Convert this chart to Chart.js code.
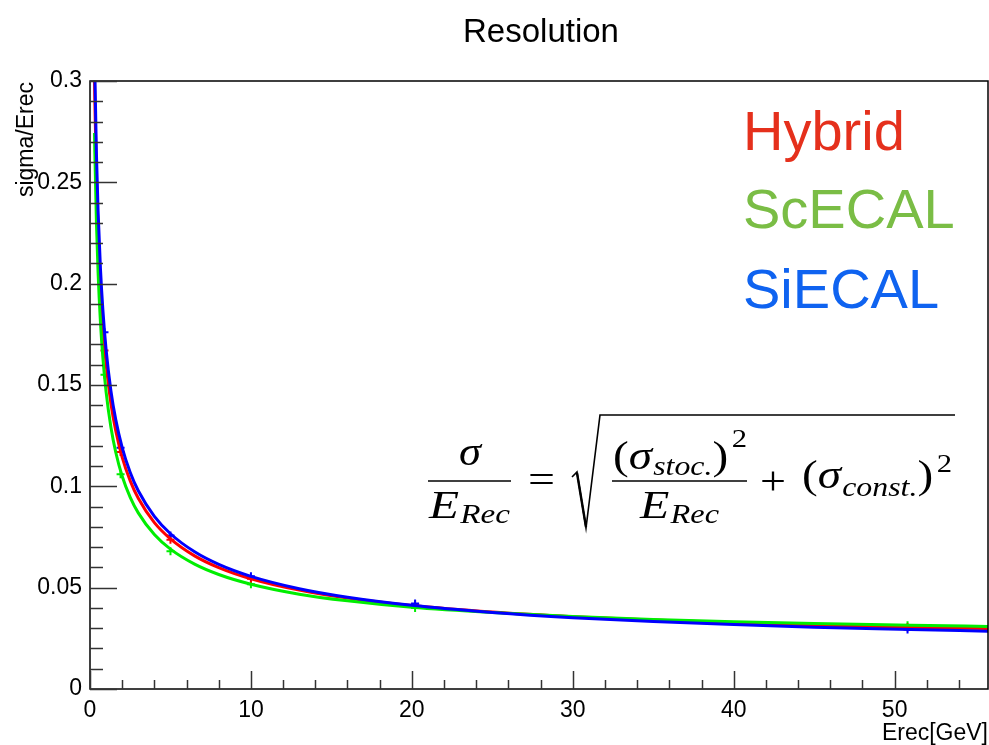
<!DOCTYPE html>
<html>
<head>
<meta charset="utf-8">
<title>Resolution</title>
<script src="https://cdn.jsdelivr.net/npm/chart.js@4.4.1/dist/chart.umd.min.js"></script>
<style>
  body { margin: 0; background: #fff; }
  canvas { display: block; }
</style>
</head>
<body>
<canvas id="resChart" width="989" height="745"></canvas>
<script>
// fitted curves
const energies = [0.28, 0.3, 0.4, 0.5, 0.65, 0.8, 1, 1.3, 1.6, 2, 2.5, 3, 4, 5, 6.5, 8, 10, 13, 16, 20, 25, 30, 35, 40, 45, 51, 55.8];
const hybridFit = [0.301, 0.2909, 0.2521, 0.2257, 0.1982, 0.1789, 0.1603, 0.1409, 0.1274, 0.1143, 0.1027, 0.0941, 0.0821, 0.0741, 0.0657, 0.0599, 0.0544, 0.0488, 0.0449, 0.0412, 0.0380, 0.0357, 0.0340, 0.0327, 0.0316, 0.0305, 0.0298];
const scecalFit = [0.2743, 0.2650, 0.2299, 0.2059, 0.1809, 0.1634, 0.1466, 0.1291, 0.1168, 0.1050, 0.0946, 0.0869, 0.0762, 0.0690, 0.0616, 0.0565, 0.0517, 0.0468, 0.0435, 0.0403, 0.0377, 0.0358, 0.0343, 0.0332, 0.0323, 0.0315, 0.0309];
const siecalFit = [0.3153, 0.3046, 0.2640, 0.2362, 0.2073, 0.1871, 0.1675, 0.1471, 0.1329, 0.1191, 0.1068, 0.0978, 0.0852, 0.0766, 0.0677, 0.0615, 0.0556, 0.0495, 0.0453, 0.0413, 0.0378, 0.0352, 0.0333, 0.0318, 0.0305, 0.0294, 0.0285];

// measured points
const pointE = [0.9, 1.9, 5, 10, 20.2, 50.8];
const hybridPts = [0.167, 0.117, 0.0737, 0.0544, 0.0418, 0.0305];
const scecalPts = [0.155, 0.106, 0.068, 0.0517, 0.040, 0.0315];
const siecalPts = [0.176, 0.119, 0.0758, 0.0556, 0.0422, 0.0294];

const xTickLabels = ['0', '10', '20', '30', '40', '50'];
const yTickLabels = ['0', '0.05', '0.1', '0.15', '0.2', '0.25', '0.3'];
const legendNames = ['Hybrid', 'ScECAL', 'SiECAL'];

const pairs = (xs, ys) => xs.map((x, i) => ({ x: x, y: ys[i] }));

function fitSet(label, ys, color, order) {
  return {
    label: label, data: pairs(energies, ys), borderColor: color, backgroundColor: color,
    borderWidth: 3, pointRadius: 0, cubicInterpolationMode: 'monotone', fill: false, order: order
  };
}
function ptSet(label, ys, color, order) {
  return {
    label: label, data: pairs(pointE, ys), showLine: false, borderColor: color, backgroundColor: color,
    pointStyle: 'cross', pointRadius: 4, pointBorderWidth: 2, order: order
  };
}

// ROOT style inner ticks, frame, title, labels, formula
const rootDeco = {
  id: 'rootDeco',
  afterDraw(chart) {
    const ctx = chart.ctx;
    const xs = chart.scales.x, ys = chart.scales.y;
    const a = chart.chartArea;
    ctx.save();
    ctx.strokeStyle = '#000';
    ctx.lineWidth = 1.5;
    ctx.strokeRect(a.left, a.top, a.right - a.left, a.bottom - a.top);

    ctx.lineWidth = 1.5;
    ctx.strokeStyle = '#333';
    for (let i = 0; i <= 30; i++) {
      const py = Math.round(ys.getPixelForValue(i * 0.01)) + 0.5;
      const len = i % 5 === 0 ? 27 : 13;
      ctx.beginPath(); ctx.moveTo(a.left, py); ctx.lineTo(a.left + len, py); ctx.stroke();
    }
    for (let i = 0; i <= 27; i++) {
      const px = Math.round(xs.getPixelForValue(i * 2)) + 0.5;
      const len = i % 5 === 0 ? 18 : 9;
      ctx.beginPath(); ctx.moveTo(px, a.bottom); ctx.lineTo(px, a.bottom - len); ctx.stroke();
    }

    ctx.fillStyle = '#000';
    ctx.font = '33px "Liberation Sans", Arial, sans-serif';
    ctx.textAlign = 'center';
    ctx.textBaseline = 'alphabetic';
    ctx.fillText('Resolution', 541, 42);

    ctx.font = '23px "Liberation Sans", Arial, sans-serif';
    ctx.textAlign = 'right';
    ctx.fillText('Erec[GeV]', 988, 740);
    ctx.save();
    ctx.translate(33, 82);
    ctx.rotate(-Math.PI / 2);
    ctx.fillText('sigma/Erec', 0, 0);
    ctx.restore();

    // legend text
    ctx.textAlign = 'left';
    ctx.font = '56px "Liberation Sans", Arial, sans-serif';
    const lColors = ['#e5301c', '#7abd45', '#0f63f0'];
    const lBase = [150, 228, 308];
    legendNames.forEach((n, i) => { ctx.fillStyle = lColors[i]; ctx.fillText(n, 743, lBase[i]); });

    // formula
    ctx.fillStyle = '#000';
    ctx.strokeStyle = '#000';
    const it = 'italic 40px "Liberation Serif", serif';
    const itS = 'italic 27px "Liberation Serif", serif';
    const rm = '40px "Liberation Serif", serif';
    const rmS = '26px "Liberation Serif", serif';
    function width(parts) {
      let w = 0;
      parts.forEach(p => { ctx.font = p.f; w += ctx.measureText(p.t).width + (p.gap || 0); });
      return w;
    }
    // draw a run of text pieces stretched to span [x0, x1]
    function fitRun(x0, x1, y, parts) {
      const k = (x1 - x0) / width(parts);
      ctx.save();
      ctx.translate(x0, 0);
      ctx.scale(k, 1);
      let x = 0;
      parts.forEach(p => {
        ctx.font = p.f;
        ctx.fillText(p.t, x, y + (p.dy || 0));
        x += ctx.measureText(p.t).width + (p.gap || 0);
      });
      ctx.restore();
    }
    const eRec = [{ t: 'E', f: it, gap: 1 }, { t: 'Rec', f: itS, dy: 5 }];
    // left fraction
    ctx.textAlign = 'left';
    fitRun(459, 481, 465, [{ t: 'σ', f: it }]);
    ctx.lineWidth = 1.6;
    ctx.beginPath(); ctx.moveTo(428, 481); ctx.lineTo(511, 481); ctx.stroke();
    fitRun(429, 510, 518, eRec);
    fitRun(528, 555, 493, [{ t: '=', f: rm }]);
    fitRun(760, 786, 494, [{ t: '+', f: rm }]);
    // root sign
    ctx.lineWidth = 1.6;
    ctx.beginPath();
    ctx.moveTo(572, 477); ctx.lineTo(577, 472); ctx.lineTo(586, 528); ctx.lineTo(600, 415); ctx.lineTo(955, 415);
    ctx.stroke();
    ctx.lineWidth = 2.4;
    ctx.beginPath(); ctx.moveTo(577, 473); ctx.lineTo(586, 527); ctx.stroke();
    // right fraction
    fitRun(613, 747, 469, [{ t: '(', f: rm }, { t: 'σ', f: it, gap: 1 }, { t: 'stoc.', f: itS, dy: 6 }, { t: ')', f: rm, gap: 3 }, { t: '2', f: rmS, dy: -22 }]);
    ctx.lineWidth = 1.6;
    ctx.beginPath(); ctx.moveTo(612, 481); ctx.lineTo(747, 481); ctx.stroke();
    fitRun(640, 719, 518, eRec);
    fitRun(802, 952, 488, [{ t: '(', f: rm }, { t: 'σ', f: it, gap: 1 }, { t: 'const.', f: itS, dy: 8 }, { t: ')', f: rm, gap: 3 }, { t: '2', f: rmS, dy: -16 }]);
    ctx.restore();
  }
};

const tickFont = { family: '"Liberation Sans", Arial, sans-serif', size: 23 };

new Chart(document.getElementById('resChart').getContext('2d'), {
  type: 'line',
  data: {
    datasets: [
      fitSet('SiECAL fit', siecalFit, '#0000ff', 0),
      fitSet('Hybrid fit', hybridFit, '#ff0000', 2),
      fitSet('ScECAL fit', scecalFit, '#00ee00', 1),
      ptSet('SiECAL', siecalPts, '#0000ff', 3),
      ptSet('Hybrid', hybridPts, '#ff0000', 4),
      ptSet('ScECAL', scecalPts, '#00ee00', 5)
    ]
  },
  options: {
    responsive: false,
    animation: false,
    devicePixelRatio: 1,
    layout: { autoPadding: false, padding: { left: 0, right: 1, top: 81, bottom: 0 } },
    plugins: { legend: { display: false }, tooltip: { enabled: false } },
    scales: {
      x: {
        type: 'linear', min: 0, max: 55.8,
        border: { display: false },
        grid: { display: false, drawTicks: false },
        afterFit: s => { s.height = 56; s.paddingLeft = 0; s.paddingRight = 0; },
        ticks: {
          stepSize: 10, includeBounds: false, padding: 8, maxRotation: 0,
          color: '#000', font: tickFont,
          callback: v => xTickLabels[v / 10]
        }
      },
      y: {
        min: 0, max: 0.3,
        border: { display: false },
        grid: { display: false, drawTicks: false },
        afterFit: s => { s.width = 90; s.paddingTop = 0; s.paddingBottom = 0; },
        ticks: {
          stepSize: 0.05, padding: 8,
          color: '#000', font: tickFont,
          callback: v => yTickLabels[Math.round(v / 0.05)]
        }
      }
    }
  },
  plugins: [rootDeco]
});
</script>
</body>
</html>
